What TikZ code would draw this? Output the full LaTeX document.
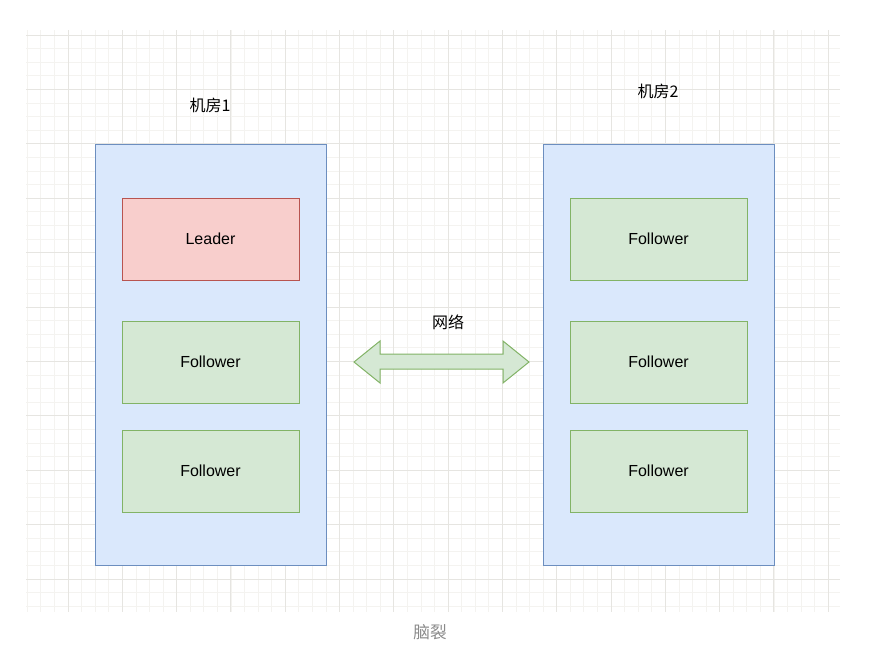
\documentclass[tikz,border=0pt]{standalone}
\usepackage{fontspec}
\setmainfont{Liberation Sans}
\newfontfamily\cjk{Noto Sans CJK SC}
\usetikzlibrary{positioning}
\definecolor{RoomBlue}{HTML}{DAE8FC}
\definecolor{RoomBlueLine}{HTML}{6C8EBF}
\definecolor{LeadRed}{HTML}{F8CECC}
\definecolor{LeadRedLine}{HTML}{B85450}
\definecolor{FolGreen}{HTML}{D5E8D4}
\definecolor{FolGreenLine}{HTML}{82B366}
\definecolor{GridMinor}{HTML}{F4F3F0}
\definecolor{GridMajor}{HTML}{E6E5E1}
\definecolor{CapGray}{HTML}{8A8A8A}

\begin{document}
\begin{tikzpicture}[
    x=0.75pt, y=-0.75pt,
    node distance=20.25pt,
    roombox/.style={
      draw=RoomBlueLine,
      fill=RoomBlue,
      line width=0.75pt,
      inner sep=0pt, outer sep=0pt,
      minimum width=173.25pt,
      minimum height=315.75pt
    },
    leaderbox/.style={
      draw=LeadRedLine,
      fill=LeadRed,
      line width=0.75pt,
      inner sep=0pt, outer sep=0pt,
      minimum width=132.75pt,
      minimum height=61.5pt,
      font=\fontsize{12pt}{14pt}\selectfont
    },
    followbox/.style={
      leaderbox,
      draw=FolGreenLine,
      fill=FolGreen
    },
    roomlabel/.style={
      font=\cjk\fontsize{12pt}{14pt}\selectfont
    }
  ]

  % background grid
  \useasboundingbox (0,0) rectangle (885,654);
  \begin{scope}
    \clip (26,30) rectangle (840,612);
    \foreach \i in {0,...,60} {
      \draw[GridMinor, line width=0.6pt] (27.3+13.575*\i,30) -- (27.3+13.575*\i,612);
      \draw[GridMinor, line width=0.6pt] (26,21.4+13.6*\i) -- (840,21.4+13.6*\i);
    }
    \foreach \i in {0,...,14} {
      \draw[GridMajor, line width=0.75pt] (68+54.3*\i,30) -- (68+54.3*\i,612);
      \draw[GridMajor, line width=0.75pt] (26,35+54.4*\i) -- (840,35+54.4*\i);
    }
  \end{scope}

  % machine rooms
  \node[roombox] (room1) at (210.5,354.5) {};
  \node[roombox] (room2) at (658.5,354.5) {};
  \node[roomlabel] (room1lbl) at (210,105) {机房1};
  \node[roomlabel] (room2lbl) at (658,91) {机房2};

  % room 1
  \node[leaderbox, below=40.5pt of room1.north] (lead) {Leader};
  \node[followbox, below=30.75pt of lead] (fa) {Follower};
  \node[followbox, below=of fa] (fb) {Follower};

  % room 2
  \node[followbox, below=40.5pt of room2.north] (fc) {Follower};
  \node[followbox, below=30.75pt of fc] (fd) {Follower};
  \node[followbox, below=of fd] (fe) {Follower};

  % network link
  \draw[draw=FolGreenLine, fill=FolGreen, line width=0.75pt]
    (354,362) -- (380,341) -- (380,354) -- (503,354) -- (503,341)
    -- (529,362) -- (503,383) -- (503,369) -- (380,369) -- (380,383) -- cycle;
  \node[roomlabel] (netlbl) at (448,322) {网络};

  % caption
  \node[font=\cjk\fontsize{12.5pt}{14pt}\selectfont, text=CapGray] (cap) at (430,632) {脑裂};

\end{tikzpicture}
\end{document}
